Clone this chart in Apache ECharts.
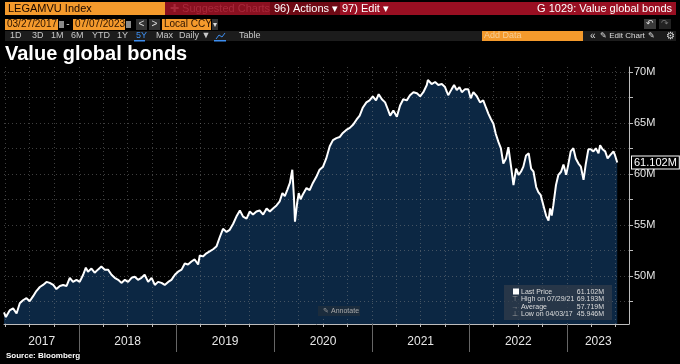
<!DOCTYPE html>
<html><head><meta charset="utf-8">
<script src="https://cdn.jsdelivr.net/npm/echarts@6/dist/echarts.min.js"></script>
<style>html,body{margin:0;padding:0;background:#000;}#c{width:680px;height:364px;}</style>
</head><body><div id="c"></div><script>
const dates = ['2017-03-27','2017-04-03','2017-04-17','2017-04-30','2017-05-13','2017-05-25','2017-06-06','2017-06-19','2017-07-01','2017-07-14','2017-07-26','2017-08-08','2017-08-20','2017-09-02','2017-09-14','2017-09-27','2017-10-09','2017-10-22','2017-11-03','2017-11-16','2017-11-28','2017-12-10','2017-12-23',
'2018-01-04','2018-01-17','2018-01-27','2018-02-04','2018-02-17','2018-03-01','2018-03-13','2018-03-26','2018-04-08','2018-04-20','2018-05-03','2018-05-15','2018-05-28','2018-06-09','2018-06-22','2018-07-04','2018-07-17','2018-07-29','2018-08-10','2018-08-23','2018-09-04','2018-09-17','2018-09-30','2018-10-12','2018-10-24','2018-11-06','2018-11-18','2018-12-01','2018-12-13','2018-12-26',
'2019-01-07','2019-01-20','2019-02-01','2019-02-13','2019-02-26','2019-03-10','2019-03-23','2019-03-29','2019-04-10','2019-04-23','2019-05-05','2019-05-18','2019-05-31','2019-06-12','2019-06-24','2019-07-07','2019-07-19','2019-08-01','2019-08-13','2019-08-26','2019-09-07','2019-09-20','2019-10-02','2019-10-14','2019-10-27','2019-11-08','2019-11-21','2019-12-04','2019-12-16','2019-12-28',
'2020-01-10','2020-01-22','2020-02-01','2020-02-10','2020-02-19','2020-02-29','2020-03-09','2020-03-15','2020-03-19','2020-03-27','2020-04-02','2020-04-09','2020-04-18','2020-05-01','2020-05-13','2020-05-25','2020-06-07','2020-06-19','2020-07-02','2020-07-14','2020-07-27','2020-08-08','2020-08-21','2020-09-02','2020-09-14','2020-09-27','2020-10-10','2020-10-22','2020-11-04','2020-11-16','2020-11-28','2020-12-11','2020-12-23',
'2021-01-04','2021-01-16','2021-01-26','2021-02-07','2021-02-19','2021-02-28','2021-03-10','2021-03-22','2021-04-04','2021-04-16','2021-04-28','2021-05-11','2021-05-23','2021-06-05','2021-06-18','2021-06-30','2021-07-12','2021-07-25','2021-07-29','2021-08-12','2021-08-25','2021-09-06','2021-09-19','2021-10-01','2021-10-13','2021-10-26','2021-11-04','2021-11-14','2021-11-24','2021-12-03','2021-12-15','2021-12-27',
'2022-01-05','2022-01-15','2022-01-28','2022-02-09','2022-02-21','2022-03-03','2022-03-12','2022-03-21','2022-03-31','2022-04-09','2022-04-19','2022-04-28','2022-05-07','2022-05-17','2022-05-26','2022-06-05','2022-06-14','2022-06-24','2022-07-03','2022-07-12','2022-07-21','2022-07-31','2022-08-10','2022-08-19','2022-08-28','2022-09-07','2022-09-15','2022-09-24','2022-10-04','2022-10-14','2022-10-23','2022-10-29','2022-11-04','2022-11-10','2022-11-20','2022-11-29','2022-12-09','2022-12-18','2022-12-28',
'2023-01-05','2023-01-14','2023-01-24','2023-02-02','2023-02-12','2023-02-21','2023-03-03','2023-03-11','2023-03-21','2023-03-30','2023-04-09','2023-04-18','2023-04-28','2023-05-04','2023-05-13','2023-05-23','2023-06-01','2023-06-10','2023-06-23','2023-06-29','2023-07-07'];
const values = [46.4,45.946,46.6,46.8,46.3,47.3,47.6,47.8,47.5,48.0,48.5,48.9,49.1,49.4,49.3,49.1,48.7,49.0,49.1,49.0,49.8,49.4,49.6,
49.4,50.1,50.8,50.4,50.7,50.3,50.6,50.9,50.6,50.6,50.1,49.8,49.6,49.3,49.6,49.4,49.8,49.9,49.6,49.8,50.1,49.4,49.8,49.1,49.4,49.3,49.1,49.4,49.6,50.1,
50.4,50.6,51.2,51.1,51.4,51.6,51.1,52.0,51.9,52.2,52.4,52.6,52.9,53.8,54.6,54.3,54.5,55.1,55.8,56.4,55.8,55.6,56.3,56.0,56.3,56.4,56.0,56.6,56.3,56.6,
56.9,57.3,58.1,57.8,58.4,59.1,60.4,57.8,55.3,57.1,58.1,57.5,58.0,58.6,58.4,59.1,59.7,60.4,60.7,61.5,62.7,63.3,63.5,63.6,64.0,64.3,64.5,64.8,65.3,65.7,66.5,67.0,67.2,
67.6,67.2,67.8,67.3,67.0,66.4,65.7,66.2,65.6,66.7,67.3,67.2,67.7,68.0,67.9,67.6,68.0,68.7,69.193,68.8,69.0,68.7,68.8,68.5,67.7,68.3,68.7,68.2,68.5,68.0,68.3,68.3,
67.4,68.0,67.6,67.0,67.2,66.5,65.9,65.4,64.9,63.9,63.1,62.5,61.0,61.5,62.6,60.7,58.9,60.5,59.9,60.2,60.7,61.8,62.0,60.5,60.2,58.7,58.2,57.9,56.9,55.9,55.4,56.6,55.9,56.9,58.9,59.9,60.2,60.9,59.9,
60.9,62.2,62.5,61.5,61.0,60.7,59.4,60.9,62.4,62.4,62.2,62.5,62.0,62.8,62.4,62.2,61.5,61.8,62.2,61.8,61.102];

const quarterDates = ['2017-04-01','2017-07-01','2017-10-01','2018-01-01','2018-04-01','2018-07-01','2018-10-01','2019-01-01','2019-04-01','2019-07-01','2019-10-01','2020-01-01','2020-04-01','2020-07-01','2020-10-01','2021-01-01','2021-04-01','2021-07-01','2021-10-01','2022-01-01','2022-04-01','2022-07-01','2022-10-01','2023-01-01','2023-04-01','2023-07-01'];
const yearStartDates = ['2018-01-01','2019-01-01','2020-01-01','2021-01-01','2022-01-01','2023-01-01'];
const yearLabelDates = ['2017-08-15','2018-07-02','2019-07-02','2020-07-02','2021-07-02','2022-07-02','2023-04-27'];
const yTickValues = [47.5,50,52.5,55,57.5,60,62.5,65,67.5,70];
const yLabelValues = [50,55,60,65,70];
const lastPrice = 61.102, highValue = 69.193, highDate = '07/29/21', averageValue = 57.719, lowValue = 45.946, lowDate = '04/03/17';
const xStart = '2017-03-27', xEnd = '2023-08-20';

const ts = s => { const p = s.split('-').map(Number); return new Date(p[0], p[1]-1, p[2]).getTime(); };
const seriesData = dates.map((d,i)=>[ts(d), values[i]]);
const FF = '"Liberation Sans", Arial, sans-serif';
const gridCol = 'rgba(140,140,140,0.45)';
const ORANGE = '#f49a2c';

const R=(x,y,w,h,fill,extra)=>Object.assign({type:'rect',shape:{x:x,y:y,width:w,height:h},style:{fill:fill},silent:true,z:10},extra||{});
const T=(x,y,text,fill,font,align)=>({type:'text',x:x,y:y,silent:true,z:11,style:{text:text,fill:fill,font:font||('11px '+FF),align:align||'left',verticalAlign:'middle'}});
const f8 = '8px '+FF, f9 = '9px '+FF, f10 = '10px '+FF, f11 = '11px '+FF, f7 = '7px '+FF;

const graphics = [
  R(5,2,160,13,ORANGE), T(8,8.5,'LEGAMVU Index','#1a0800',f11),
  R(165,2,105,13,'#8a1020'), T(170,8.5,'✚ Suggested Charts','#a8283a',f11),
  R(270,2,70,13,'#6e0914'), T(274,8.5,'96) Actions ▾','#ffffff',f11),
  R(340,2,336,13,'#990f22'), T(342,8.5,'97) Edit ▾','#ffffff',f11), T(672,8.5,'G 1029: Value global bonds','#ffffff',f11,'right'),
  R(5,19,53,11,ORANGE), T(7,24.5,'03/27/2017','#2a1200',f10),
  R(59,21,5,7,'#8a8a8a'), T(68,24.5,'-','#cccccc',f10,'center'),
  R(73,19,52,11,ORANGE), T(75,24.5,'07/07/2023','#2a1200',f10),
  R(126,21,5,7,'#8a8a8a'),
  R(136,19,11,11,'#333333'), T(141.5,24.5,'<','#dddddd',f10,'center'),
  R(149,19,11,11,'#333333'), T(154.5,24.5,'>','#dddddd',f10,'center'),
  R(162,19,49,11,ORANGE), T(164,24.5,'Local CCY','#2a1200',f10),
  R(212,19,6,11,'#333333'), T(215,24.5,'▾','#dddddd','8px '+FF,'center'),
  R(644,19,12,10,'#3a3a3a'), T(650,24,'↶','#dddddd',f9,'center'),
  R(659,19,12,10,'#222222'), T(665,24,'↷','#777777',f9,'center'),
  R(5,31,671,10,'#1c1c1c'),
  T(10,36,'1D','#c8c8c8',f9), T(32,36,'3D','#c8c8c8',f9), T(51,36,'1M','#c8c8c8',f9), T(71,36,'6M','#c8c8c8',f9),
  T(92,36,'YTD','#c8c8c8',f9), T(117,36,'1Y','#c8c8c8',f9), T(136,36,'5Y','#3d8ef0',f9), R(134,40,11,1.5,'#3d8ef0'),
  T(156,36,'Max','#c8c8c8',f9), T(179,36,'Daily ▼','#c8c8c8',f9),
  {type:'polyline',silent:true,z:11,shape:{points:[[216,39],[219,35],[222,37],[225,33]]},style:{stroke:'#3d8ef0',fill:null,lineWidth:1}},
  R(214,40,12,1.5,'#3d8ef0'),
  T(239,36,'Table','#c8c8c8',f9),
  R(482,31,101,10,ORANGE), T(484,36,'Add Data','#f7cf98',f9),
  T(590,36,'«','#dddddd',f10), T(600,36,'✎ Edit Chart','#dddddd',f8), T(651,36,'✎','#dddddd',f8,'center'), T(670,36,'⚙','#dddddd',f10,'center'),
  T(5,54,'Value global bonds','#ffffff','bold 20px '+FF),
  T(6,356,'Source: Bloomberg','#ffffff','bold 8px '+FF),
  R(504,285,108,35,'rgba(48,60,74,0.75)'),
  R(513,288.5,6,6,'#ffffff'),
  T(521,292,'Last Price','#dddddd',f7), T(604,292,lastPrice.toFixed(3)+'M','#dddddd',f7,'right'),
  T(515,299.5,'⊤','#999999',f7,'center'), T(521,299.5,'High on '+highDate,'#dddddd',f7), T(604,299.5,highValue.toFixed(3)+'M','#dddddd',f7,'right'),
  T(515,307,'→','#999999',f7,'center'), T(521,307,'Average','#dddddd',f7), T(604,307,averageValue.toFixed(3)+'M','#dddddd',f7,'right'),
  T(515,314,'⊥','#999999',f7,'center'), T(521,314,'Low on '+lowDate,'#dddddd',f7), T(604,314,lowValue.toFixed(3)+'M','#dddddd',f7,'right'),
  R(318,306,42,10,'#1b2c3d'), T(323,311,'✎','#999999',f7), T(331,311,'Annotate','#aaaaaa',f7)
];

const chart = echarts.init(document.getElementById('c'), null, {renderer:'canvas'});
chart.setOption({
  backgroundColor:'#000000',
  animation:false,
  grid:{left:4,right:51,top:67,bottom:40,containLabel:false},
  xAxis:[{
    type:'value', min:ts(xStart), max:ts(xEnd), z:2, scale:true,
    axisLine:{show:true,lineStyle:{color:'#bdbdbd',width:1}},
    axisTick:{show:true,customValues:quarterDates.map(ts),length:3,lineStyle:{color:'#bdbdbd'}},
    axisLabel:{show:true,customValues:yearLabelDates.map(ts),formatter:v=>String(new Date(v).getFullYear()),color:'#e6e6e6',fontSize:12,margin:12,fontFamily:'Liberation Sans'},
    splitLine:{show:true,lineStyle:{color:gridCol,type:[1,3],width:1}}
  },{
    type:'value', min:ts(xStart), max:ts(xEnd), position:'bottom', z:2, scale:true,
    axisLine:{show:false},
    axisTick:{show:true,customValues:yearStartDates.map(ts),length:28,lineStyle:{color:'#666666'}},
    axisLabel:{show:false}, splitLine:{show:false}
  }],
  yAxis:{
    type:'value', position:'right', min:45.27, max:70.47, z:2,
    axisLine:{show:true,lineStyle:{color:'#bdbdbd'}},
    axisTick:{show:true,customValues:yTickValues,length:4,lineStyle:{color:'#bdbdbd'}},
    axisLabel:{show:true,customValues:yLabelValues,formatter:v=>v+'M',color:'#e6e6e6',fontSize:11,margin:5,fontFamily:'Liberation Sans'},
    splitLine:{show:true,lineStyle:{color:gridCol,type:[1,3],width:1}}
  },
  series:[
    {type:'line',data:seriesData,showSymbol:false,silent:true,lineStyle:{width:0},areaStyle:{color:'#0c2743',opacity:1},z:1},
    {type:'line',data:seriesData,showSymbol:false,silent:true,clip:false,lineStyle:{color:'#ffffff',width:2},z:3,
     markLine:{silent:true,symbol:['none','none'],lineStyle:{color:'rgba(0,0,0,0)',width:1,type:'solid'},
       label:{show:true,position:'end',distance:3,formatter:lastPrice.toFixed(3)+'M',color:'#ffffff',backgroundColor:'#000000',borderColor:'#ffffff',borderWidth:1,padding:[1,2,0,2],fontSize:11,fontFamily:'Liberation Sans'},
       data:[{yAxis:lastPrice}]}}
  ],
  graphic:graphics
});
</script></body></html>
